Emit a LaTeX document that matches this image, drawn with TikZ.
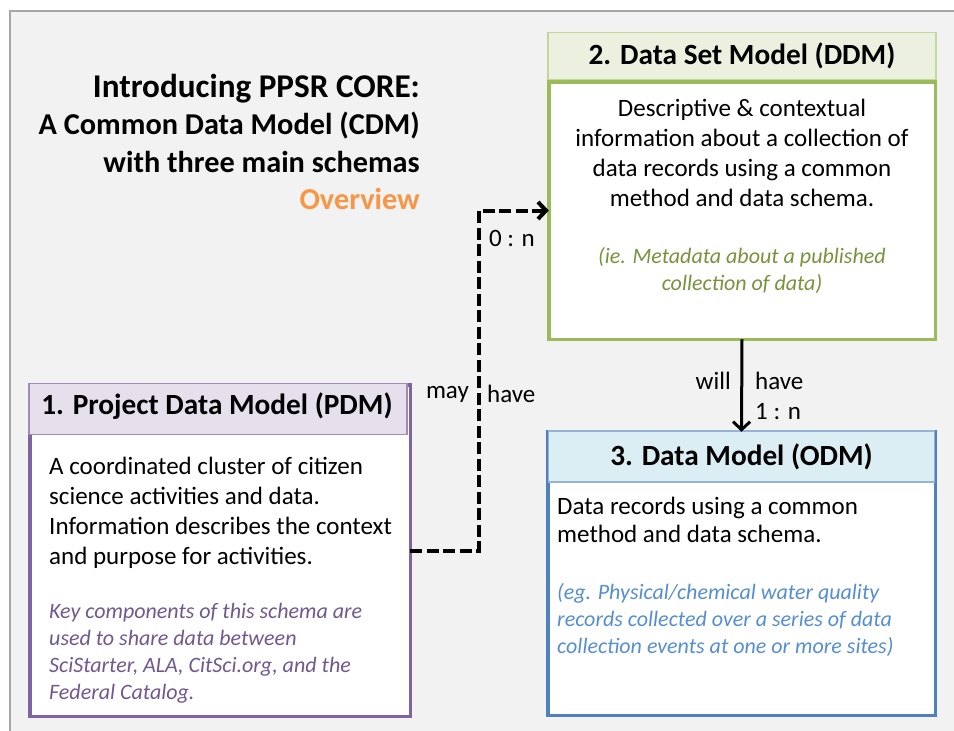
\documentclass[tikz,border=0pt]{standalone}
\usepackage{fontspec}
\setmainfont{Carlito}
\usetikzlibrary{arrows.meta}
\definecolor{bggray}{HTML}{F2F2F2}
\definecolor{framegray}{HTML}{A6A6A6}
\definecolor{ddmgreen}{HTML}{9BBB59}
\definecolor{ddmhead}{HTML}{EBF1DE}
\definecolor{ddmheadline}{HTML}{C3D69B}
\definecolor{ddmital}{HTML}{77933C}
\definecolor{pdmpurple}{HTML}{8064A2}
\definecolor{pdmhead}{HTML}{E5E0EC}
\definecolor{pdmital}{HTML}{71588F}
\definecolor{odmblue}{HTML}{4F81BD}
\definecolor{odmhead}{HTML}{DBEEF4}
\definecolor{odmheadline}{HTML}{95B3D7}
\definecolor{odmital}{HTML}{558ED5}
\definecolor{orng}{HTML}{F79646}
\tikzset{
  bodybox/.style={rectangle, fill=white, line width=3.5pt, inner sep=0pt, outer sep=0pt},
  headbox/.style={rectangle, line width=1.5pt, inner sep=0pt, outer sep=0pt},
  headtext/.style={inner sep=0pt, font=\fontsize{29.3}{35}\selectfont\bfseries},
  bodytext/.style={inner sep=0pt, font=\fontsize{25}{30}\selectfont},
  italtext/.style={inner sep=0pt, font=\fontsize{22}{27}\selectfont\itshape},
  lbl/.style={inner sep=0pt, font=\fontsize{25}{30}\selectfont},
  dashconn/.style={line width=4pt, dash pattern=on 12pt off 4.5pt, -{Straight Barb[length=8pt,width=17pt,line width=4pt]}},
  solidconn/.style={line width=3pt, -{Straight Barb[length=8pt,width=17pt,line width=3pt]}},
}
\begin{document}
\begin{tikzpicture}[x=1pt,y=-1pt]
\useasboundingbox (0,0) rectangle (954,731);
\fill[white] (0,0) rectangle (954,731);
\fill[bggray] (10,11) rectangle (954,731);
\draw[framegray, line width=1.5pt] (10,731) -- (10,11) -- (954,11);

% title
\node[inner sep=0pt, align=right, anchor=east, font=\fontsize{30.3}{37.5}\selectfont\bfseries] (title) at (420,142)
  {{\fontsize{33.2}{37.5}\selectfont Introducing PPSR CORE:}\\A Common Data Model (CDM)\\with three main schemas\\\textcolor{orng}{Overview}};

% PDM
\node[bodybox, draw=pdmpurple, minimum width=380.5, minimum height=331.5] (pdm) at (220,550.5) {};
\node[headbox, fill=pdmhead, draw=pdmpurple!75, minimum width=378, minimum height=51] (pdmhead) at (218,409) {};
\node[headtext] (pdmtitle) at (217,406) {1. Project Data Model (PDM)};
\node[bodytext, align=left, anchor=west] (pdmbody) at (49,513)
  {A coordinated cluster of citizen\\science activities and data.\\Information describes the context\\and purpose for activities.};
\node[italtext, align=left, anchor=west, text=pdmital] (pdmital) at (49,653)
  {Key components of this schema are\\used to share data between\\SciStarter, ALA, CitSci.org, and the\\Federal Catalog.};

% DDM
\node[bodybox, draw=ddmgreen, minimum width=386.5, minimum height=257.5] (ddm) at (742,210.5) {};
\node[headbox, fill=ddmhead, draw=ddmheadline, minimum width=388, minimum height=47] (ddmhead) at (742,56) {};
\node[headtext] (ddmtitle) at (742,56) {2. Data Set Model (DDM)};
\node[bodytext, align=center] (ddmbody) at (742,153)
  {Descriptive \& contextual\\information about a collection of\\data records using a common\\method and data schema.};
\node[italtext, align=center, text=ddmital] (ddmital) at (742,270)
  {(ie. Metadata about a published\\collection of data)};

% ODM
\node[bodybox, draw=odmblue, minimum width=387.5, minimum height=283.5] (odm) at (741.5,573.5) {};
\node[headbox, fill=odmhead, draw=odmheadline, minimum width=386, minimum height=51] (odmhead) at (741.5,456.5) {};
\node[headtext] (odmtitle) at (741.5,457) {3. Data Model (ODM)};
\node[bodytext, align=left, anchor=west, font=\fontsize{25}{28}\selectfont] (odmbody) at (557,520)
  {Data records using a common\\method and data schema.};
\node[italtext, align=left, anchor=west, text=odmital] (odmital) at (557,620)
  {(eg. Physical/chemical water quality\\records collected over a series of data\\collection events at one or more sites)};

% connectors
\coordinate (bend) at (479,381);
\draw[dashconn] (pdm.east) -| (bend) |- (ddm.west);
\draw[solidconn] (ddm.south) -- (odm.north);

% labels
\node[lbl, anchor=east] (may) at (469,394) {may};
\node[lbl, anchor=west] (have1) at (487,394) {have};
\node[lbl] (zeron) at (512,238) {0 : n};
\node[lbl, anchor=east] (will) at (731,381) {will};
\node[lbl, anchor=west] (have2) at (755,381) {have};
\node[lbl, anchor=west] (onen) at (755,412) {1 : n};
\end{tikzpicture}
\end{document}
